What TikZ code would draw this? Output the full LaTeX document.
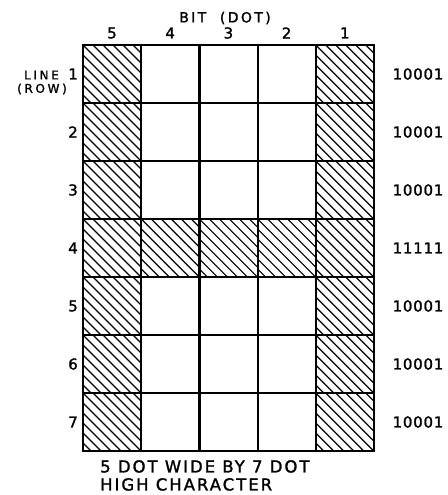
\documentclass[tikz,border=0pt]{standalone}
\usepackage{fontspec}
\setmainfont{DejaVu Sans}[LetterSpace=10, FakeBold=1.5]
\usetikzlibrary{positioning}

\tikzset{
  grid line/.style={line width=2.2pt},
  hatch line/.style={line width=1.2pt},
  lbl/.style={font=\fontsize{15}{17}\selectfont, inner sep=0pt},
  small lbl/.style={font=\fontsize{12}{14}\selectfont\addfontfeature{LetterSpace=22}, inner sep=0pt},
}

% hatch one cell: column, row (counted from the top left)
\newcommand\hatchcell[2]{%
  \begin{scope}
    \clip (83+58.2*#1, 45+58*#2) rectangle ++(58.2,58);
    \foreach \d in {-60,-50,...,60}
      \draw[hatch line] (83+58.2*#1+\d, 45+58*#2) -- ++(58,58);
  \end{scope}}

\begin{document}
\begin{tikzpicture}[x=1pt,y=-1pt]
  \useasboundingbox (0,0) rectangle (447,495);

  % hatched dots
  \foreach \r in {0,...,6} {
    \hatchcell{0}{\r}
    \hatchcell{4}{\r}
  }
  \foreach \c in {1,2,3} {
    \hatchcell{\c}{3}
  }

  % the grid
  \foreach \c in {1,...,4}
    \draw[grid line] (83+58.2*\c,45) -- ++(0,406);
  \foreach \r in {1,...,6}
    \draw[grid line] (83,45+58*\r) -- ++(291,0);
  \draw[grid line] (83,45) rectangle (374,451);

  % bits
  \node[lbl, font=\fontsize{14}{16}\selectfont\addfontfeature{LetterSpace=17}]
    (bit) at (225,18) {BIT\ \ (DOT)};
  \foreach \n [count=\i from 0] in {5,4,3,2,1}
    \node[lbl] (col\n) at (112+58.2*\i,33) {\n};

  % lines
  \foreach \n in {1,...,7}
    \node[lbl, anchor=east] (row\n) at (78,74+58*\n-58) {\n};
  \node[small lbl, anchor=east] (line) at (59,75) {LINE};
  \node[small lbl] (rowlbl) at (42,89) {(ROW)};

  % codes
  \foreach \n/\code in {1/10001,2/10001,3/10001,4/11111,5/10001,6/10001,7/10001}
    \node[lbl, font=\fontsize{15}{17}\selectfont\addfontfeature{LetterSpace=5}]
      (code\n) at (418,74+58*\n-58) {\code};

  \node[lbl, font=\fontsize{16.5}{18}\selectfont\addfontfeature{LetterSpace=12},
        anchor=north west, align=left]
    (caption) at (100,460) {5 DOT WIDE BY 7 DOT\\HIGH CHARACTER};
\end{tikzpicture}
\end{document}
